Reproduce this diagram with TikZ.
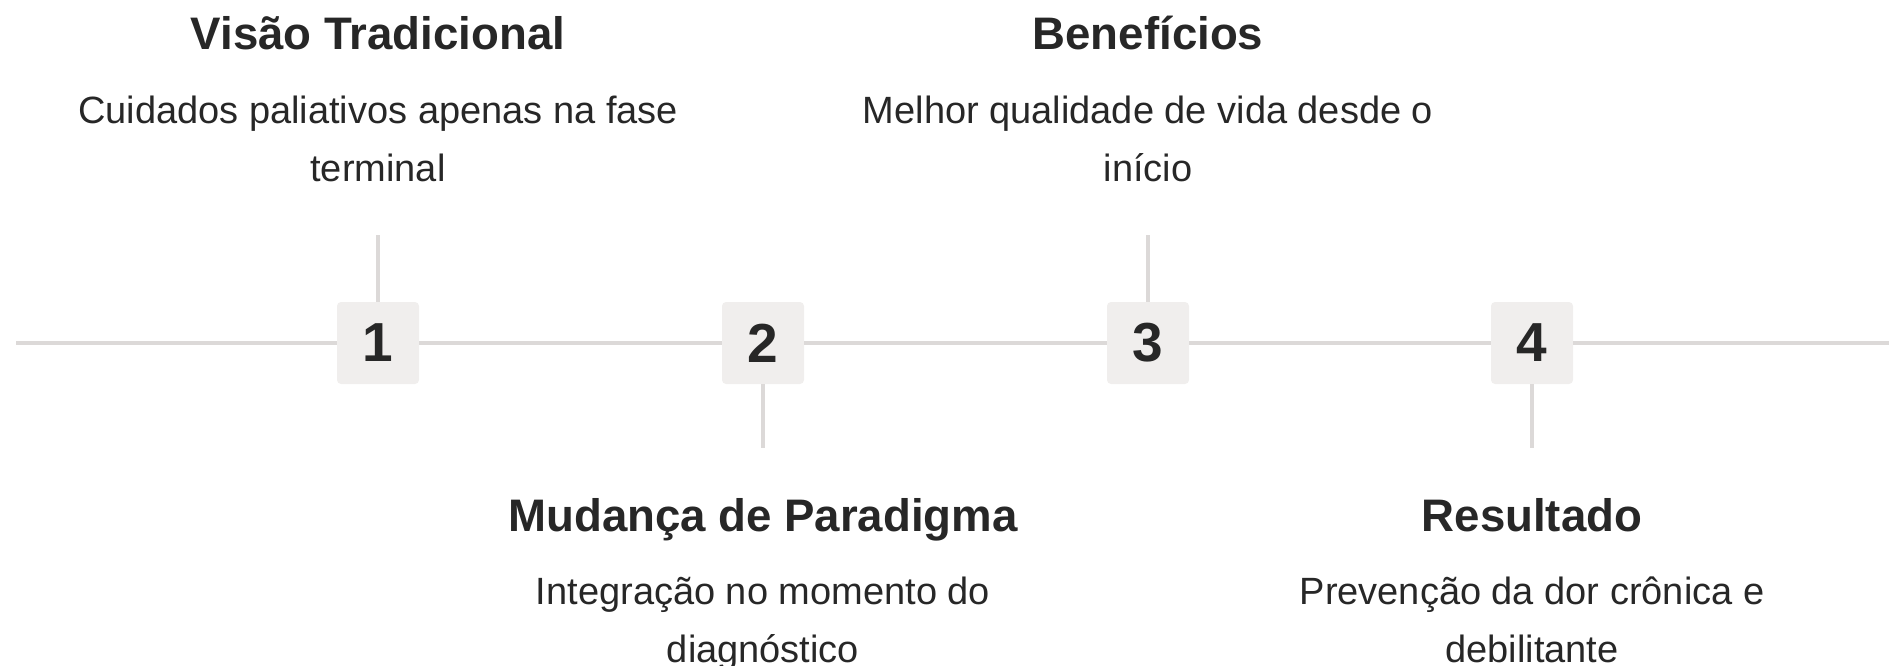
\documentclass[tikz,border=0pt]{standalone}
\usepackage{fontspec}
\setmainfont{Liberation Sans}
\usetikzlibrary{positioning,calc}

\definecolor{ink}{HTML}{272727}
\definecolor{rail}{HTML}{DCD9D8}
\definecolor{stepfill}{HTML}{F0EEED}

\tikzset{
    numbox/.style={fill=stepfill, rounded corners=2pt, minimum size=41pt, inner sep=0pt,
        text=ink, font=\fontsize{27.5}{30}\selectfont\bfseries},
    railline/.style={draw=rail, line width=1.75pt},
    title/.style={anchor=base, text=ink, inner sep=0pt, font=\fontsize{22.8}{27}\selectfont\bfseries},
    desc/.style={anchor=base, text=ink, inner sep=0pt, align=center, font=\fontsize{19}{29}\selectfont}
}

\begin{document}
\begin{tikzpicture}[x=0.5pt, y=-0.5pt]
    \useasboundingbox (0,0) rectangle (1889,665);

    \foreach \n/\x in {1/378, 2/763, 3/1148, 4/1532} {
        \node[numbox] (n\n) at (\x,343) {\n};
    }

    \coordinate (start) at (16,343);
    \coordinate (end) at (1889,343);
    \draw[railline] (start) -- (n1) -- (n2) -- (n3) -- (n4) -- (end);

    \coordinate (t1) at (378,235);
    \coordinate (t3) at (1148,235);
    \coordinate (b2) at (763,448);
    \coordinate (b4) at (1532,448);
    \draw[railline] (t1) -- (n1);
    \draw[railline] (t3) -- (n3);
    \draw[railline] (n2) -- (b2);
    \draw[railline] (n4) -- (b4);

    \node[title] (h1) at (378,49) {Visão Tradicional};
    \node[desc] (d1) at (378,181) {Cuidados paliativos apenas na fase\\terminal};
    \node[title] (h3) at (1148,49) {Benefícios};
    \node[desc] (d3) at (1148,181) {Melhor qualidade de vida desde o\\início};
    \node[title] (h2) at (763,531) {Mudança de Paradigma};
    \node[desc] (d2) at (763,662) {Integração no momento do\\diagnóstico};
    \node[title] (h4) at (1532,531) {Resultado};
    \node[desc] (d4) at (1532,662) {Prevenção da dor crônica e\\debilitante};
\end{tikzpicture}
\end{document}
